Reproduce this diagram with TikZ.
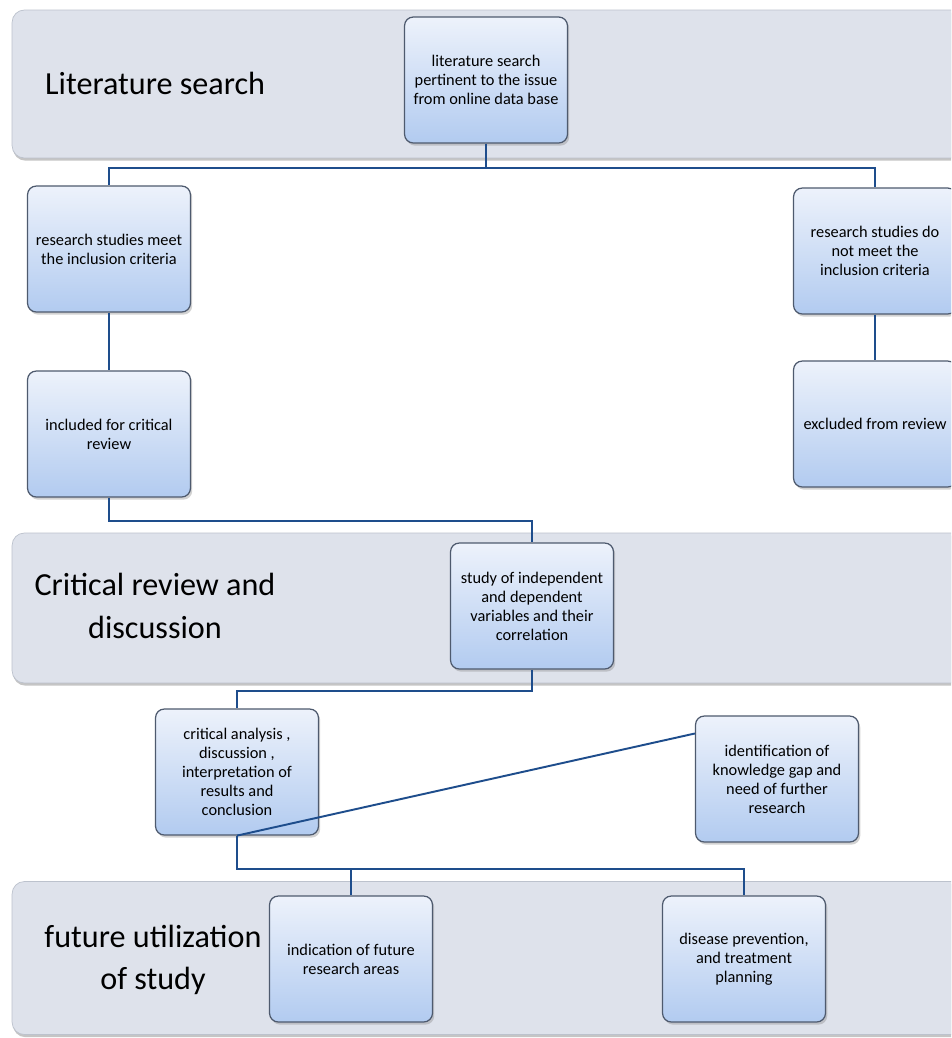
\documentclass[tikz,border=0pt]{standalone}
\usepackage{fontspec}
\setmainfont{Carlito}
\usetikzlibrary{shadows}
\definecolor{panelfill}{RGB}{222,226,235}
\definecolor{paneledge}{RGB}{188,194,205}
\definecolor{boxtop}{RGB}{237,242,251}
\definecolor{boxbottom}{RGB}{178,203,240}
\definecolor{boxedge}{RGB}{78,90,110}
\definecolor{linkblue}{RGB}{30,77,140}
\begin{document}
\begin{tikzpicture}[x=0.02cm, y=-0.02cm,
  main/.style = {draw=boxedge, line width=0.7pt, rounded corners=5pt, top color=boxtop, bottom color=boxbottom,
    minimum width=3.26cm, minimum height=2.52cm, align=center, font=\fontsize{9.3}{10.8}\selectfont,
    drop shadow={opacity=0.35, shadow xshift=1pt, shadow yshift=-1.5pt}},
  panel/.style = {draw=paneledge, fill=panelfill, rounded corners=7pt, minimum width=19.2cm,
    drop shadow={opacity=0.45, shadow xshift=0.5pt, shadow yshift=-1.5pt}},
  title/.style = {font=\fontsize{18.3}{24}\selectfont, align=center},
  link/.style = {draw=linkblue, line width=1.1pt}]
	\clip (0,0) rectangle (951,1038);
	\fill[white] (0,0) rectangle (951,1038);
	% panels
	\node[panel, minimum height=2.96cm] (a) at (492,84) {};
	\node[panel, minimum height=3cm] (b) at (492,608) {};
	\node[panel, minimum height=3.06cm] (c) at (492,958) {};
	\node[title, anchor=west] (ta) at (39,83) {Literature search};
	\node[title] (tb) at (155,606) {Critical review and\\discussion};
	\node[title] (tc) at (153,960) {future utilization\\of study};
	% boxes
	\node[main] (1) at (486,80) {literature search\\pertinent to the  issue\\from online data base};
	\node[main] (2) at (109,249) {research studies meet\\the inclusion criteria};
	\node[main] (3) at (875,251) {research studies do\\not meet the\\inclusion criteria};
	\node[main] (4) at (109,434) {included for critical\\review};
	\node[main] (5) at (875,424) {excluded from review};
	\node[main] (6) at (532,606) {study of  independent\\and dependent\\variables and their\\correlation};
	\node[main] (7) at (237,772) {critical analysis ,\\discussion ,\\interpretation of\\results and\\conclusion};
	\node[main] (8) at (777,779) {identification of\\knowledge gap and\\need of further\\research};
	\node[main] (9) at (351,959) {indication of  future\\research areas};
	\node[main] (10) at (744,959) {disease prevention,\\and  treatment\\planning};
	% connectors
	\draw[link] (1.south) -- ++(0,24) -| (2.north);
	\draw[link] (1.south) -- ++(0,24) -| (3.north);
	\draw[link] (2) -- (4);
	\draw[link] (3) -- (5);
	\draw[link] (4.south) -- ++(0,23) -| (6.north);
	\draw[link] (6.south) -- ++(0,21) -| (7.north);
	\draw[link] (8.151) -- (7.south);
	\draw[link] (7.south) -- ++(0,33) -| (9.north);
	\draw[link] (7.south) -- ++(0,33) -| (10.north);
\end{tikzpicture}
\end{document}
